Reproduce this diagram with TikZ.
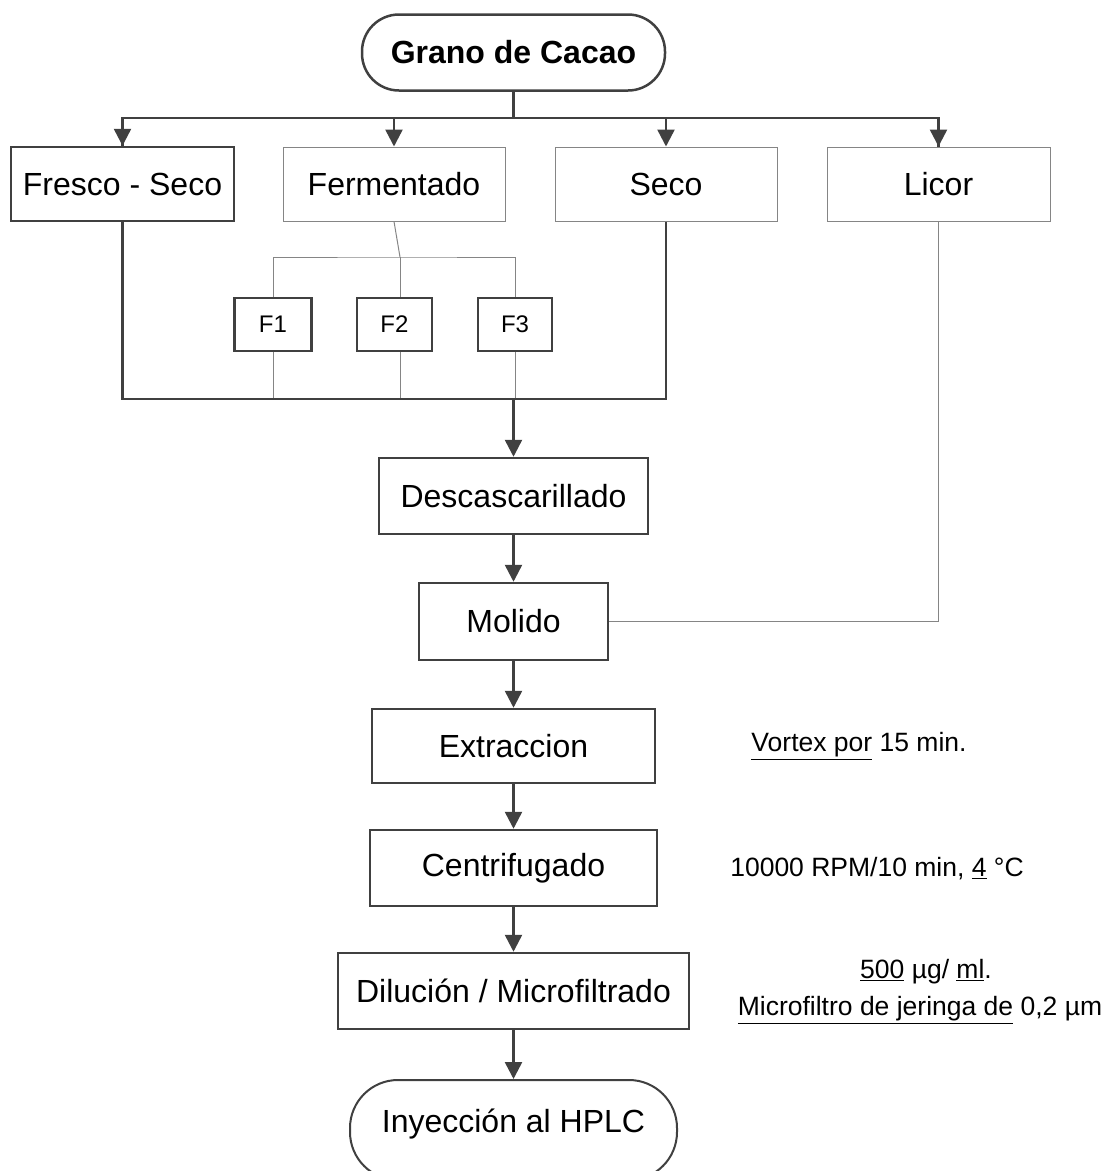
\documentclass[tikz,border=0pt]{standalone}
\usepackage{fontspec}
\setmainfont{Liberation Sans}
\usetikzlibrary{arrows.meta}
\definecolor{dk}{HTML}{404040}
\definecolor{lg}{HTML}{858585}
\begin{document}
\begin{tikzpicture}[x=1pt,y=-1pt,
  base/.style={rectangle,inner sep=0pt,fill=white,text=black,font=\fontsize{32}{37}\selectfont},
  box/.style={base,draw=dk,line width=2.5pt},
  lbox/.style={base,draw=lg,line width=1pt},
  fbox/.style={base,draw=dk,line width=2.2pt,minimum width=75pt,minimum height=53pt,font=\fontsize{24}{28}\selectfont},
  term/.style={box,rounded corners=37pt},
  conn/.style={draw=dk,line width=2.5pt},
  thinconn/.style={draw=lg,line width=1pt},
  arr/.style={conn,-{Triangle[length=17pt,width=17pt]}},
  note/.style={inner sep=0pt,text=black,font=\fontsize{26.5}{31}\selectfont}]
\useasboundingbox (0,0) rectangle (1111,1171);

% nodes
\node[term,minimum width=303pt,minimum height=76pt,font=\fontsize{32}{37}\selectfont\bfseries] (grano) at (513.5,52.5) {Grano de Cacao};
\node[box,minimum width=223pt,minimum height=74pt] (fs) at (122.5,184) {Fresco - Seco};
\node[lbox,minimum width=222pt,minimum height=74pt] (ferm) at (394,184) {Fermentado};
\node[lbox,minimum width=222pt,minimum height=74pt] (seco) at (666,184) {Seco};
\node[lbox,minimum width=223pt,minimum height=74pt] (licor) at (938.5,184) {Licor};

\node[fbox,minimum width=77pt] (f1) at (273,324.5) {F1};
\node[fbox,minimum width=75pt] (f2) at (394.5,324.5) {F2};
\node[fbox,minimum width=74pt] (f3) at (515,324.5) {F3};

\node[box,minimum width=269pt,minimum height=76pt] (desc) at (513.5,496) {Descascarillado};
\node[box,minimum width=189pt,minimum height=77pt] (mol) at (513.5,621.5) {Molido};
\node[box,minimum width=283pt,minimum height=74pt] (ext) at (513.5,746) {Extraccion};
\node[box,minimum width=287pt,minimum height=76pt] (cen) at (513.5,868) {Centrifugado};
\node[box,minimum width=351pt,minimum height=76pt] (dil) at (513.5,991) {Dilución / Microfiltrado};
\node[box,rounded corners=48pt,minimum width=327pt,minimum height=100pt,draw=dk,line width=2pt] (iny) at (513.5,1130) {\raisebox{18pt}{Inyección al HPLC}};

% side notes
\node[note] (n1) at (859,746) {\underline{Vortex por} 15 min.};
\node[note] (n2) at (877,869) {10000 RPM/10 min, \underline{4} °C};
\node[note] (n3) at (926,972) {\underline{500} µg/ \underline{ml}.};
\node[note] (n4) at (920,1010) {\underline{Microfiltro de jeringa de} 0,2 µm};

% coordinates
\coordinate (bus) at (513.5,118);
\coordinate (merge) at (513.5,399);
\coordinate (fk) at (400,257);

% top distribution
\draw[conn] (grano.south) -- (bus);
\draw[conn] (bus) -| (fs.north);
\draw[conn] (bus) -| (licor.north);
\draw[arr] (bus) -| (fs.north);
\draw[arr] (bus) -| (ferm.north);
\draw[arr] (bus) -| (seco.north);
\draw[arr] (bus) -| (licor.north);

% fermentation branches
\draw[thinconn] (ferm.south) -- (fk);
\draw[thinconn] (fk) -- (fk |- f2.north);
\draw[thinconn] (f1.north) |- (fk) -| (f3.north);
\draw[thinconn] (f1.south) -- (f1.south |- merge);
\draw[thinconn] (fk |- f2.south) -- (fk |- merge);
\draw[thinconn] (f3.south) -- (f3.south |- merge);

% merge
\draw[conn] (fs.south) |- (merge);
\draw[conn] (seco.south) |- (merge);
\draw[arr] (merge) -- (desc.north);

% licor
\draw[thinconn] (licor.south) |- (mol.east);

% process chain
\draw[arr] (desc) -- (mol);
\draw[arr] (mol) -- (ext);
\draw[arr] (ext) -- (cen);
\draw[arr] (cen) -- (dil);
\draw[arr] (dil) -- (iny);
\end{tikzpicture}
\end{document}
